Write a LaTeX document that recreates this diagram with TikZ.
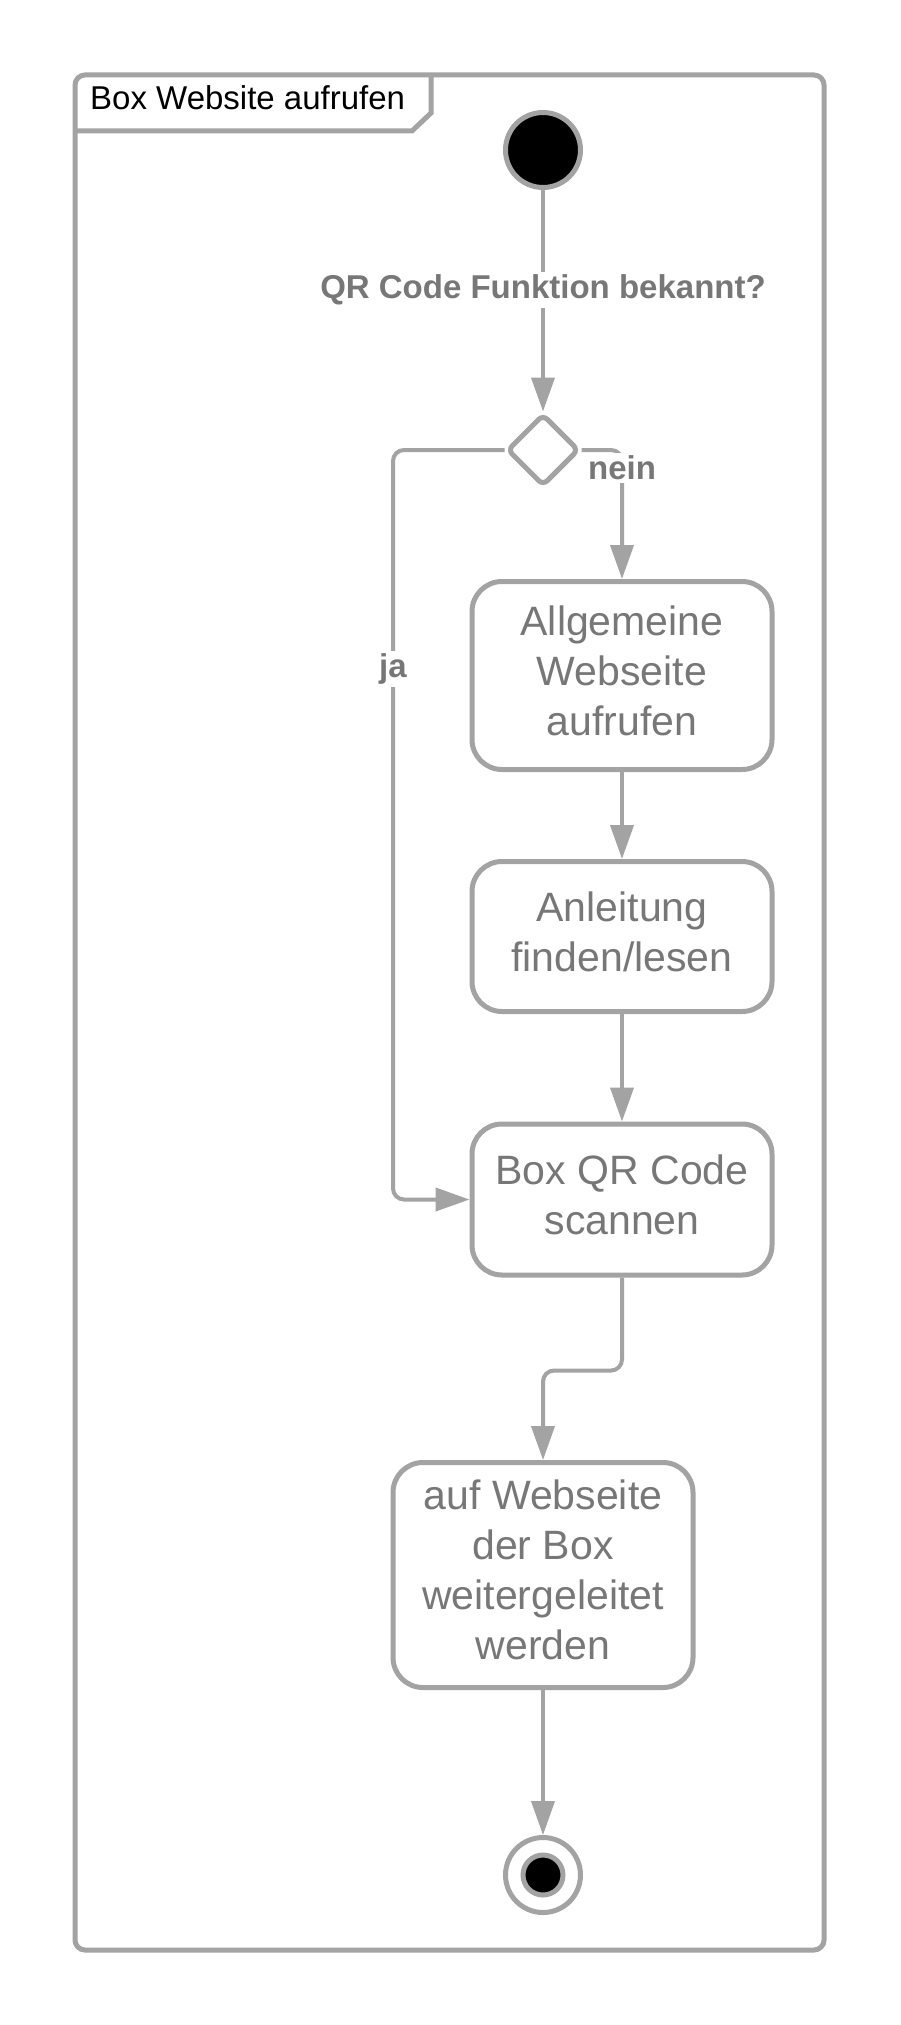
\documentclass[tikz,border=0pt]{standalone}
\usepackage{fontspec}
\setmainfont{Liberation Sans}
\usetikzlibrary{arrows.meta,shapes.geometric}
\definecolor{lgray}{HTML}{A3A3A3}
\definecolor{tgray}{HTML}{777777}
\begin{document}
\begin{tikzpicture}[x=1pt,y=-1pt,
  act/.style={draw=lgray,line width=5pt,rounded corners=30pt,fill=white,minimum width=300pt,inner sep=0pt},
  acttext/.style={text=tgray,align=center,font=\fontsize{41}{50}\selectfont,inner sep=0pt,yshift=5pt},
  conn/.style={draw=lgray,line width=4pt,rounded corners=11pt,-{Triangle[length=34pt,width=23pt]}},
  lbl/.style={fill=white,text=tgray,font=\bfseries\fontsize{33}{38}\selectfont,inner sep=3pt},
  framestyle/.style={draw=lgray,line width=5pt}]
\useasboundingbox (0,0) rectangle (900,2025);
\fill[white] (0,0) rectangle (900,2025);
% frame
\draw[framestyle,rounded corners=10pt] (75,75) rectangle (824,1950);
\draw[framestyle,line join=miter] (75,131) -- (412,131) -- (431,113) -- (431,76);
\node[anchor=base west,font=\fontsize{33}{38}\selectfont,inner sep=0pt] (title) at (90,110) {Box Website aufrufen};
% nodes
\node[circle,fill=black,draw=lgray,line width=5pt,minimum size=75pt,inner sep=0pt] (init) at (543,150) {};
\node[diamond,draw=lgray,line width=5pt,rounded corners=6pt,fill=white,minimum width=72pt,minimum height=72pt,inner sep=0pt] (dia) at (543,450) {};
\node[act,minimum height=188pt] (box1) at (622,675.5) {};
\node[acttext] (t1) at (box1.center) {Allgemeine\\Webseite\\aufrufen};
\node[act,minimum height=150pt] (box2) at (622,936.5) {};
\node[acttext] (t2) at (box2.center) {Anleitung\\finden/lesen};
\node[act,minimum height=151pt] (box3) at (622,1199.5) {};
\node[acttext] (t3) at (box3.center) {Box QR Code\\scannen};
\node[act,minimum height=225pt] (box4) at (543,1575) {};
\node[acttext] (t4) at (box4.center) {auf Webseite\\der Box\\weitergeleitet\\werden};
\node[circle,fill=white,draw=lgray,line width=5pt,minimum size=75pt,inner sep=0pt] (final) at (543,1875) {};
\node[circle,fill=black,draw=lgray,line width=5pt,minimum size=40pt,inner sep=0pt] (finalin) at (543,1875) {};
\coordinate (jaX) at (393,450);
% connectors
\draw[conn] (init) -- (dia.north);
\draw[conn] (dia.east) -| (box1.north);
\draw[conn] (dia.west) -- (jaX) |- (box3.west);
\draw[conn] (box1.south) -- (box2.north);
\draw[conn] (box2.south) -- (box3.north);
\draw[conn] (box3.south) -- ++(0,93) -| (box4.north);
\draw[conn] (box4.south) -- (final.north);
% labels
\node[lbl] (lq) at (543,290) {QR Code Funktion bekannt?};
\node[lbl] (lnein) at (622,468) {nein};
\node[lbl] (lja) at (393,669) {ja};
\end{tikzpicture}
\end{document}
